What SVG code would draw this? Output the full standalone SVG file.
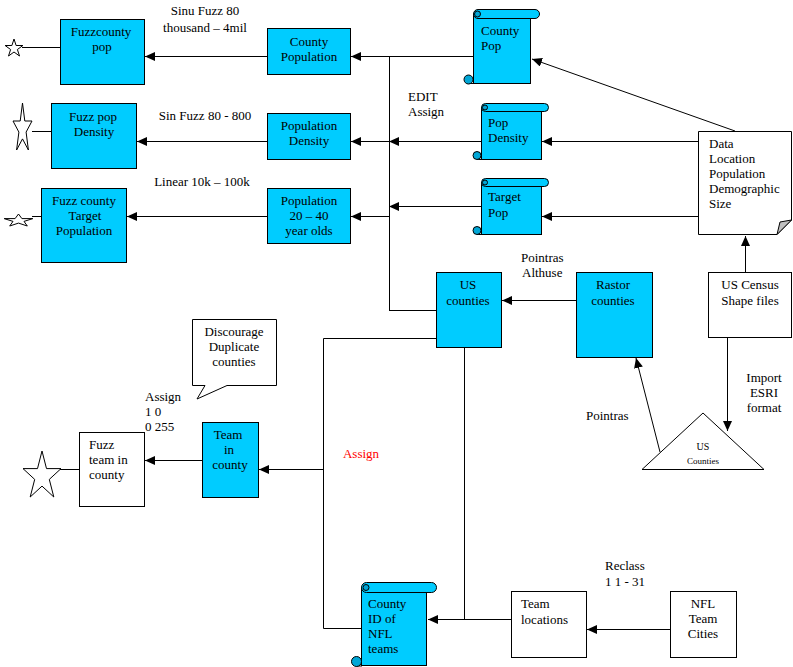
<svg xmlns="http://www.w3.org/2000/svg" width="793" height="667" viewBox="0 0 793 667">
<style>
text{font-family:"Liberation Serif","Times New Roman",serif;font-size:13px;fill:#000}
.c{text-anchor:middle}
.blue{fill:#00CCFF;stroke:#000;stroke-width:1}
.white{fill:#fff;stroke:#000;stroke-width:1}
.curl{fill:#00A6D6;stroke:#000;stroke-width:1}
.ln{fill:none;stroke:#000;stroke-width:1}
.ar{fill:none;stroke:#000;stroke-width:1;marker-end:url(#ah)}
.star{fill:#fff;stroke:#000;stroke-width:1}
.small{font-size:10px}
.tiny{font-size:9px}
.red{fill:#FF0000}
</style>
<defs>
<marker id="ah" markerUnits="userSpaceOnUse" viewBox="0 0 10 9" refX="10" refY="4.5" markerWidth="10" markerHeight="9" orient="auto">
<path d="M0,0 L10,4.5 L0,9 Z" fill="#000"/>
</marker>
</defs>

<g id="connectors">
<line class="ar" x1="473" y1="56.5" x2="351" y2="56.5"/>
<line class="ln" x1="389.5" y1="56" x2="389.5" y2="310"/>
<line class="ar" x1="267" y1="56.5" x2="145" y2="56.5"/>
<line class="ln" x1="22" y1="47.5" x2="60" y2="47.5"/>
<line class="ar" x1="481" y1="141.5" x2="389" y2="141.5"/>
<line class="ar" x1="389" y1="141.5" x2="351" y2="141.5"/>
<line class="ar" x1="267" y1="141.5" x2="137" y2="141.5"/>
<line class="ln" x1="32" y1="131.5" x2="51" y2="131.5"/>
<line class="ar" x1="481" y1="206.5" x2="389" y2="206.5"/>
<line class="ar" x1="389" y1="216.5" x2="351" y2="216.5"/>
<line class="ar" x1="267" y1="216.5" x2="127" y2="216.5"/>
<line class="ln" x1="32" y1="216.5" x2="41" y2="216.5"/>
<line class="ar" x1="735" y1="131" x2="532" y2="59"/>
<line class="ar" x1="698" y1="141.5" x2="542" y2="141.5"/>
<line class="ar" x1="698" y1="216.5" x2="542" y2="216.5"/>
<line class="ar" x1="745.5" y1="272" x2="745.5" y2="236"/>
<line class="ar" x1="727.5" y1="337" x2="727.5" y2="431"/>
<line class="ar" x1="660" y1="452" x2="636" y2="358"/>
<line class="ar" x1="576" y1="300.5" x2="502" y2="300.5"/>
<line class="ln" x1="389" y1="310.5" x2="436" y2="310.5"/>
<polyline class="ln" points="436,338.5 323.5,338.5 323.5,628.5 361,628.5"/>
<line class="ar" x1="323" y1="469.5" x2="259" y2="469.5"/>
<line class="ar" x1="202" y1="460.5" x2="145" y2="460.5"/>
<line class="ln" x1="60" y1="469.5" x2="79" y2="469.5"/>
<line class="ln" x1="464.5" y1="347" x2="464.5" y2="619"/>
<line class="ar" x1="511" y1="619.5" x2="428" y2="619.5"/>
<line class="ar" x1="670" y1="629.5" x2="587" y2="629.5"/>
</g>

<g id="star1"><polygon class="star" points="14,39 16.1,45.5 22.9,45.5 17.4,49.5 19.5,56 14,52 8.5,56 10.6,49.5 5.1,45.5 11.9,45.5"/></g>
<g id="star2"><polygon class="star" points="22.5,103 24.8,121 32,121 26.1,132.1 28.4,150 22.5,138.9 16.6,150 18.9,132.1 13,121 20.2,121"/></g>
<g id="star3"><polygon class="star" points="18.5,214 21.9,218.6 32.8,218.6 24,221.4 27.3,226 18.5,223.1 9.7,226 13,221.4 4.2,218.6 15.1,218.6"/></g>
<g id="star4"><polygon class="star" points="42,451 46.5,468.6 61,468.6 49.3,479.4 53.8,497 42,486.1 30.2,497 34.7,479.4 23,468.6 37.5,468.6"/></g>

<g id="fuzzcounty-pop">
<rect class="blue" x="60.5" y="19.5" width="84" height="65"/>
<text class="c" x="101" y="36">Fuzzcounty</text>
<text class="c" x="102" y="51">pop</text>
</g>
<text class="c" x="205" y="15">Sinu Fuzz 80</text>
<text class="c" x="205" y="32">thousand – 4mil</text>

<g id="county-population">
<rect class="blue" x="267.5" y="28.5" width="83" height="46"/>
<text class="c" x="309" y="46">County</text>
<text class="c" x="309" y="61">Population</text>
</g>

<g id="county-pop">
<rect class="blue" x="473.5" y="14.5" width="57" height="69"/>
<rect class="blue" x="473.5" y="9.5" width="66" height="9" rx="4.5"/>
<circle class="curl" cx="477.5" cy="14" r="3"/>
<line class="ln" x1="468" y1="83.5" x2="474" y2="83.5"/>
<circle class="curl" cx="468.5" cy="79.5" r="4.5"/>
<text x="481" y="35">County</text>
<text x="481" y="50">Pop</text>
</g>

<text x="408" y="101">EDIT</text>
<text x="408" y="116">Assign</text>

<g id="fuzz-pop-density">
<rect class="blue" x="51.5" y="103.5" width="85" height="65"/>
<text class="c" x="93" y="121">Fuzz pop</text>
<text class="c" x="94" y="136">Density</text>
</g>
<text class="c" x="205" y="120">Sin Fuzz 80 - 800</text>

<g id="population-density">
<rect class="blue" x="267.5" y="113.5" width="83" height="46"/>
<text class="c" x="309" y="130">Population</text>
<text class="c" x="309" y="145">Density</text>
</g>

<g id="pop-density">
<rect class="blue" x="481.5" y="107.5" width="60" height="52"/>
<rect class="blue" x="481.5" y="103.5" width="67" height="8" rx="4"/>
<circle class="curl" cx="485" cy="107.5" r="2.5"/>
<line class="ln" x1="477" y1="159.5" x2="482" y2="159.5"/>
<circle class="curl" cx="477" cy="155.5" r="4"/>
<text x="488" y="127">Pop</text>
<text x="488" y="142">Density</text>
</g>

<text class="c" x="202" y="186">Linear 10k – 100k</text>

<g id="fuzz-county-target">
<rect class="blue" x="41.5" y="188.5" width="85" height="74"/>
<text class="c" x="84" y="205">Fuzz county</text>
<text class="c" x="85" y="220">Target</text>
<text class="c" x="84" y="235">Population</text>
</g>

<g id="population-20-40">
<rect class="blue" x="267.5" y="188.5" width="83" height="55"/>
<text class="c" x="309" y="205">Population</text>
<text class="c" x="309" y="220">20 – 40</text>
<text class="c" x="309" y="235">year olds</text>
</g>

<g id="target-pop">
<rect class="blue" x="481.5" y="182.5" width="60" height="52"/>
<rect class="blue" x="481.5" y="178.5" width="67" height="8" rx="4"/>
<circle class="curl" cx="485" cy="182.5" r="2.5"/>
<line class="ln" x1="477" y1="234.5" x2="482" y2="234.5"/>
<circle class="curl" cx="477" cy="230.5" r="4"/>
<text x="488" y="201">Target</text>
<text x="488" y="217">Pop</text>
</g>

<g id="data-doc">
<path class="white" d="M698.5,131.5 H791.5 V220 L777,234.5 H698.5 Z"/>
<path d="M777,234.5 L780,222 L791.5,220 Z" fill="#C0C0C0" stroke="#000" stroke-width="1"/>
<text x="709" y="148">Data</text>
<text x="709" y="163">Location</text>
<text x="709" y="178">Population</text>
<text x="709" y="193">Demographic</text>
<text x="709" y="208">Size</text>
</g>

<text x="521" y="262">Pointras</text>
<text x="522" y="277">Althuse</text>

<g id="us-counties">
<rect class="blue" x="436.5" y="272.5" width="65" height="75"/>
<text class="c" x="468" y="289">US</text>
<text class="c" x="468" y="305">counties</text>
</g>

<g id="rastor-counties">
<rect class="blue" x="576.5" y="272.5" width="76" height="85"/>
<text class="c" x="613" y="289">Rastor</text>
<text class="c" x="613" y="305">counties</text>
</g>

<g id="us-census">
<rect class="white" x="708.5" y="272.5" width="83" height="65"/>
<text class="c" x="750" y="289">US Census</text>
<text class="c" x="750" y="305">Shape files</text>
</g>

<text class="c" x="764" y="382">Import</text>
<text class="c" x="764" y="397">ESRI</text>
<text class="c" x="764" y="412">format</text>
<text x="586" y="420">Pointras</text>

<g id="us-counties-tri">
<polygon class="white" points="642,469.5 703,413 764,469.5"/>
<text class="c small" x="703" y="450">US</text>
<text class="c tiny" x="703" y="464">Counties</text>
</g>

<g id="callout">
<path class="white" d="M192.5,319.5 H276.5 V385.5 H227 L197,399 L205,385.5 H192.5 Z"/>
<text class="c" x="234" y="336">Discourage</text>
<text class="c" x="234" y="351">Duplicate</text>
<text class="c" x="234" y="366">counties</text>
</g>

<text x="145" y="401">Assign</text>
<text x="145" y="416">1 0</text>
<text x="145" y="431">0 255</text>

<g id="fuzz-team">
<rect class="white" x="79.5" y="432.5" width="65" height="74"/>
<text x="89" y="449">Fuzz</text>
<text x="89" y="464">team in</text>
<text x="89" y="479">county</text>
</g>

<g id="team-in-county">
<rect class="blue" x="202.5" y="422.5" width="56" height="75"/>
<text class="c" x="228" y="439">Team</text>
<text class="c" x="229" y="454">in</text>
<text class="c" x="230" y="469">county</text>
</g>

<text class="c red" x="361" y="458">Assign</text>

<g id="county-id">
<rect class="blue" x="361.5" y="587.5" width="65" height="78"/>
<rect class="blue" x="361.5" y="582.5" width="75" height="10" rx="5"/>
<circle class="curl" cx="366" cy="587.5" r="3"/>
<line class="ln" x1="356" y1="666" x2="362" y2="666"/>
<circle class="curl" cx="356.5" cy="661.5" r="5"/>
<text x="368" y="608">County</text>
<text x="368" y="623">ID of</text>
<text x="368" y="638">NFL</text>
<text x="368" y="653">teams</text>
</g>

<g id="team-locations">
<rect class="white" x="511.5" y="591.5" width="75" height="66"/>
<text x="521" y="608">Team</text>
<text x="521" y="624">locations</text>
</g>

<text x="605" y="570">Reclass</text>
<text x="605" y="586">1 1 - 31</text>

<g id="nfl-team-cities">
<rect class="white" x="670.5" y="591.5" width="66" height="66"/>
<text class="c" x="703" y="608">NFL</text>
<text class="c" x="703" y="623">Team</text>
<text class="c" x="703" y="638">Cities</text>
</g>
</svg>
